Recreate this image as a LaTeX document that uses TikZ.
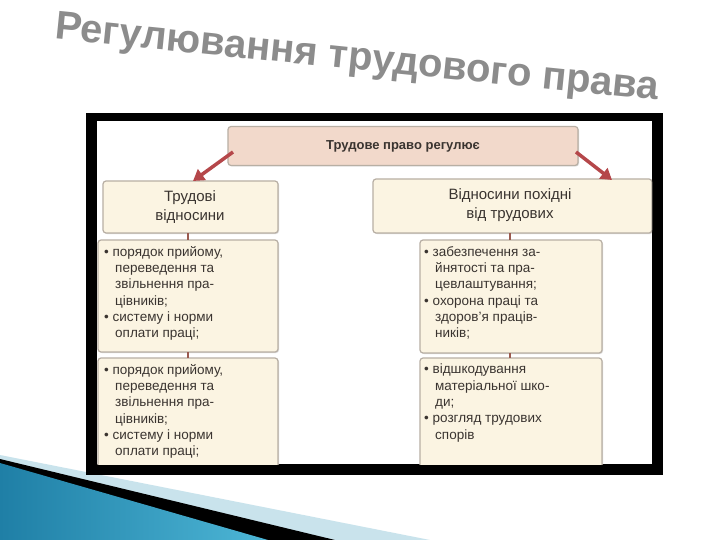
\documentclass[tikz,border=0pt]{standalone}
\usepackage{fontspec}
\setmainfont{Liberation Sans}
\usetikzlibrary{arrows.meta,shadows}
\definecolor{cream}{HTML}{FBF4E2}
\definecolor{pinkbox}{HTML}{F2D9CB}
\definecolor{edge}{HTML}{B8AFA4}
\definecolor{txt}{HTML}{3A3430}
\definecolor{arr}{HTML}{B5474A}
\definecolor{conn}{HTML}{9A5A4E}
\definecolor{tealdark}{HTML}{1F7FA6}
\definecolor{teallight}{HTML}{4DB6D6}
\definecolor{palebl}{HTML}{C9E3EC}
\tikzset{
  box/.style={draw=edge,line width=1.2pt,fill=cream,rounded corners=3pt,drop shadow={shadow xshift=1pt,shadow yshift=-1pt,opacity=0.3}},
  btxt/.style={text=txt,font=\fontsize{13.5}{16.3}\selectfont,align=left,anchor=north west,inner sep=0pt},
  htxt/.style={text=txt,font=\fontsize{15}{19}\selectfont,align=center,inner sep=0pt},
  redarrow/.style={draw=arr,line width=3.5pt,-{Triangle[length=11pt,width=13pt]}},
  linkline/.style={draw=conn,line width=2.5pt}
}
\begin{document}
\begin{tikzpicture}[x=1pt,y=-1pt]
\useasboundingbox (0,0) rectangle (720,540);
\fill[white] (0,0) rectangle (720,540);
% bottom-left decoration
\fill[palebl] (0,455) -- (430,540) -- (0,540) -- cycle;
\fill[black] (0,459) -- (335,540) -- (0,540) -- cycle;
\shade[left color=tealdark, right color=teallight] (0,463) -- (268,540) -- (0,540) -- cycle;
% title
\node[rotate=-5.8,font=\bfseries\fontsize{40}{42}\selectfont,text=black!45,inner sep=0pt] (title) at (357,60) {Регулювання трудового права};
% frame
\fill[black] (86,113) rectangle (663,475);
\fill[white] (97,121) rectangle (652,464);
% boxes
\node[box,fill=pinkbox,minimum width=350pt,minimum height=39pt] (top) at (403,146) {};
\node[font=\bfseries\fontsize{13}{16}\selectfont,text=txt] (toptext) at (top) {Трудове право регулює};
\begin{scope}
\clip (97,121) rectangle (652,464);
\draw[box] (103,181) rectangle (278,233);
\node[htxt] (lh) at (190,207) {Трудові\\відносини};
\draw[box] (373,179) rectangle (652,233);
\node[htxt] (rh) at (510,205) {Відносини похідні\\від трудових};
\draw[box] (98,240) rectangle (278,352);
\draw[box] (98,358) rectangle (278,470);
\draw[box] (420,240) rectangle (602,353);
\draw[box] (420,358) rectangle (602,470);
\end{scope}
\coordinate (lha) at (188,233); \coordinate (lhb) at (188,240);
\coordinate (l1a) at (188,352); \coordinate (l1b) at (188,358);
\coordinate (rha) at (510,233); \coordinate (rhb) at (510,240);
\coordinate (r1a) at (510,353); \coordinate (r1b) at (510,358);
\draw[linkline] (lha) -- (lhb);
\draw[linkline] (l1a) -- (l1b);
\draw[linkline] (rha) -- (rhb);
\draw[linkline] (r1a) -- (r1b);
\coordinate (lt) at (233,152); \coordinate (ltend) at (193,181);
\coordinate (rt) at (576,152); \coordinate (rtend) at (612,180);
\draw[redarrow] (lt) -- (ltend);
\draw[redarrow] (rt) -- (rtend);
% list texts
\node[btxt] (l1) at (104,246) {• порядок прийому,\\\hspace*{11pt}переведення та\\\hspace*{11pt}звільнення пра-\\\hspace*{11pt}цівників;\\• систему і норми\\\hspace*{11pt}оплати праці;};
\node[btxt] (l2) at (104,364) {• порядок прийому,\\\hspace*{11pt}переведення та\\\hspace*{11pt}звільнення пра-\\\hspace*{11pt}цівників;\\• систему і норми\\\hspace*{11pt}оплати праці;};
\node[btxt] (r1) at (424,246) {• забезпечення за-\\\hspace*{11pt}йнятості та пра-\\\hspace*{11pt}цевлаштування;\\• охорона праці та\\\hspace*{11pt}здоров’я праців-\\\hspace*{11pt}ників;};
\node[btxt] (r2) at (424,364) {• відшкодування\\\hspace*{11pt}матеріальної шко-\\\hspace*{11pt}ди;\\• розгляд трудових\\\hspace*{11pt}спорів};
\end{tikzpicture}
\end{document}
